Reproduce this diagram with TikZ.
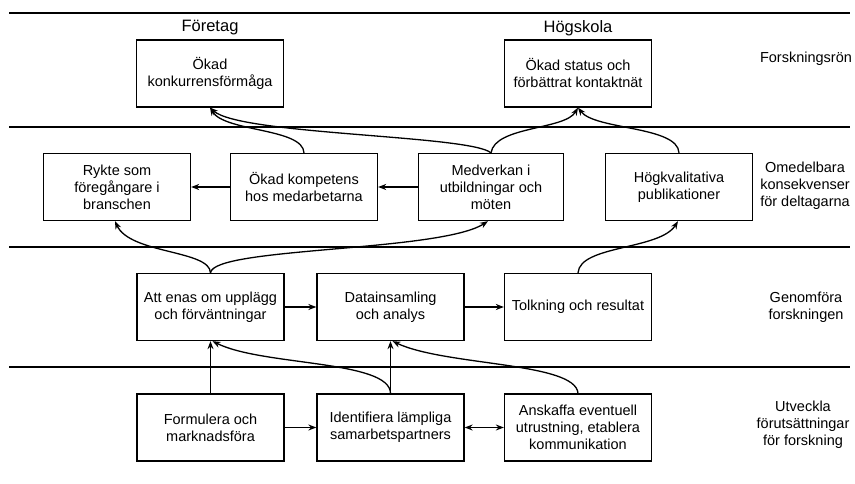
\documentclass[tikz,border=0pt]{standalone}
\usepackage{fontspec}
\setmainfont{Liberation Sans}
\usetikzlibrary{arrows.meta}
\begin{document}
\begin{tikzpicture}[x=1pt,y=-1pt,
  box/.style={draw,line width=1.3pt,minimum width=147pt,minimum height=67pt,inner sep=2pt,align=center,font=\fontsize{14.5}{17}\selectfont},
  lbl/.style={align=center,font=\fontsize{14.5}{17}\selectfont},
  head/.style={font=\fontsize{16.5}{19}\selectfont},
  sep/.style={line width=1.3pt},
  arr/.style={line width=1.3pt,-{Stealth[length=8pt,width=6pt]}},
  darr/.style={line width=1.3pt,{Stealth[length=8pt,width=6pt]}-{Stealth[length=8pt,width=6pt]}}]
\useasboundingbox (0,0) rectangle (855,484);
% separators
\coordinate (l1a) at (9,13); \coordinate (l1b) at (850,13);
\coordinate (l2a) at (9,127); \coordinate (l2b) at (850,127);
\coordinate (l3a) at (9,247); \coordinate (l3b) at (850,247);
\coordinate (l4a) at (9,367); \coordinate (l4b) at (850,367);
\draw[sep] (l1a) -- (l1b);
\draw[sep] (l2a) -- (l2b);
\draw[sep] (l3a) -- (l3b);
\draw[sep] (l4a) -- (l4b);
% headings
\node[head] (hf) at (210,28) {Företag};
\node[head] (hh) at (578,28) {Högskola};
% row 1
\node[box] (konk) at (210,73.5) {Ökad\\konkurrensförmåga};
\node[box] (stat) at (578,73.5) {Ökad status och\\förbättrat kontaktnät};
\node[lbl] (r1) at (806,59) {Forskningsrön};
% row 2
\node[box] (rykt) at (117,187) {Rykte som\\föregångare i\\branschen};
\node[box] (komp) at (304,187) {Ökad kompetens\\hos medarbetarna};
\node[box,minimum width=145pt] (medv) at (491,187) {Medverkan i\\utbildningar och\\möten};
\node[box] (hogk) at (679,187) {Högkvalitativa\\publikationer};
\node[lbl] (r2) at (805,186) {Omedelbara\\konsekvenser\\för deltagarna};
% row 3
\node[box] (atte) at (210.5,307) {Att enas om upplägg\\och förväntningar};
\node[box] (data) at (390.5,307) {Datainsamling\\och analys};
\node[box] (tolk) at (578,307) {Tolkning och resultat};
\node[lbl] (r3) at (806,307) {Genomföra\\forskningen};
% row 4
\node[box] (form) at (210.5,427.5) {Formulera och\\marknadsföra};
\node[box] (iden) at (390.5,427.5) {Identifiera lämpliga\\samarbetspartners};
\node[box] (ansk) at (578,427.5) {Anskaffa eventuell\\utrustning, etablera\\kommunikation};
\node[lbl] (r4) at (803,425) {Utveckla\\förutsättningar\\för forskning};
% straight arrows
\draw[arr] (medv.west) -- (komp.east);
\draw[arr] (komp.west) -- (rykt.east);
\draw[arr] (atte.east) -- (data.west);
\draw[arr] (data.east) -- (tolk.west);
\draw[arr] (form.east) -- (iden.west);
\draw[darr] (iden.east) -- (ansk.west);
\draw[arr] (form.north) -- (form.north |- atte.south);
\draw[arr] (iden.north) -- (iden.north |- data.south);
% curved arrows row4 -> row3
\draw[arr] (iden.north) .. controls (390,360) and (262,366) .. ([xshift=2pt]atte.south);
\draw[arr] (ansk.north) .. controls (576,362) and (445,366) .. ([xshift=2pt]data.south);
% row3 -> row2
\draw[arr] (atte.north) .. controls (210,250) and (130,254) .. ([xshift=-2pt]rykt.south);
\draw[arr] (atte.north) .. controls (213,247) and (440,252) .. ([xshift=-3pt]medv.south);
\draw[arr] (tolk.north) .. controls (580,245) and (660,250) .. ([xshift=-1pt]hogk.south);
% row2 -> row1
\draw[arr] (komp.north) .. controls (303,128) and (225,132) .. (konk.south);
\draw[arr] (medv.north) .. controls (470,135) and (240,135) .. (konk.south);
\draw[arr] (medv.north) .. controls (495,126) and (565,130) .. (stat.south);
\draw[arr] (hogk.north) .. controls (678,126) and (595,130) .. (stat.south);
\end{tikzpicture}
\end{document}
